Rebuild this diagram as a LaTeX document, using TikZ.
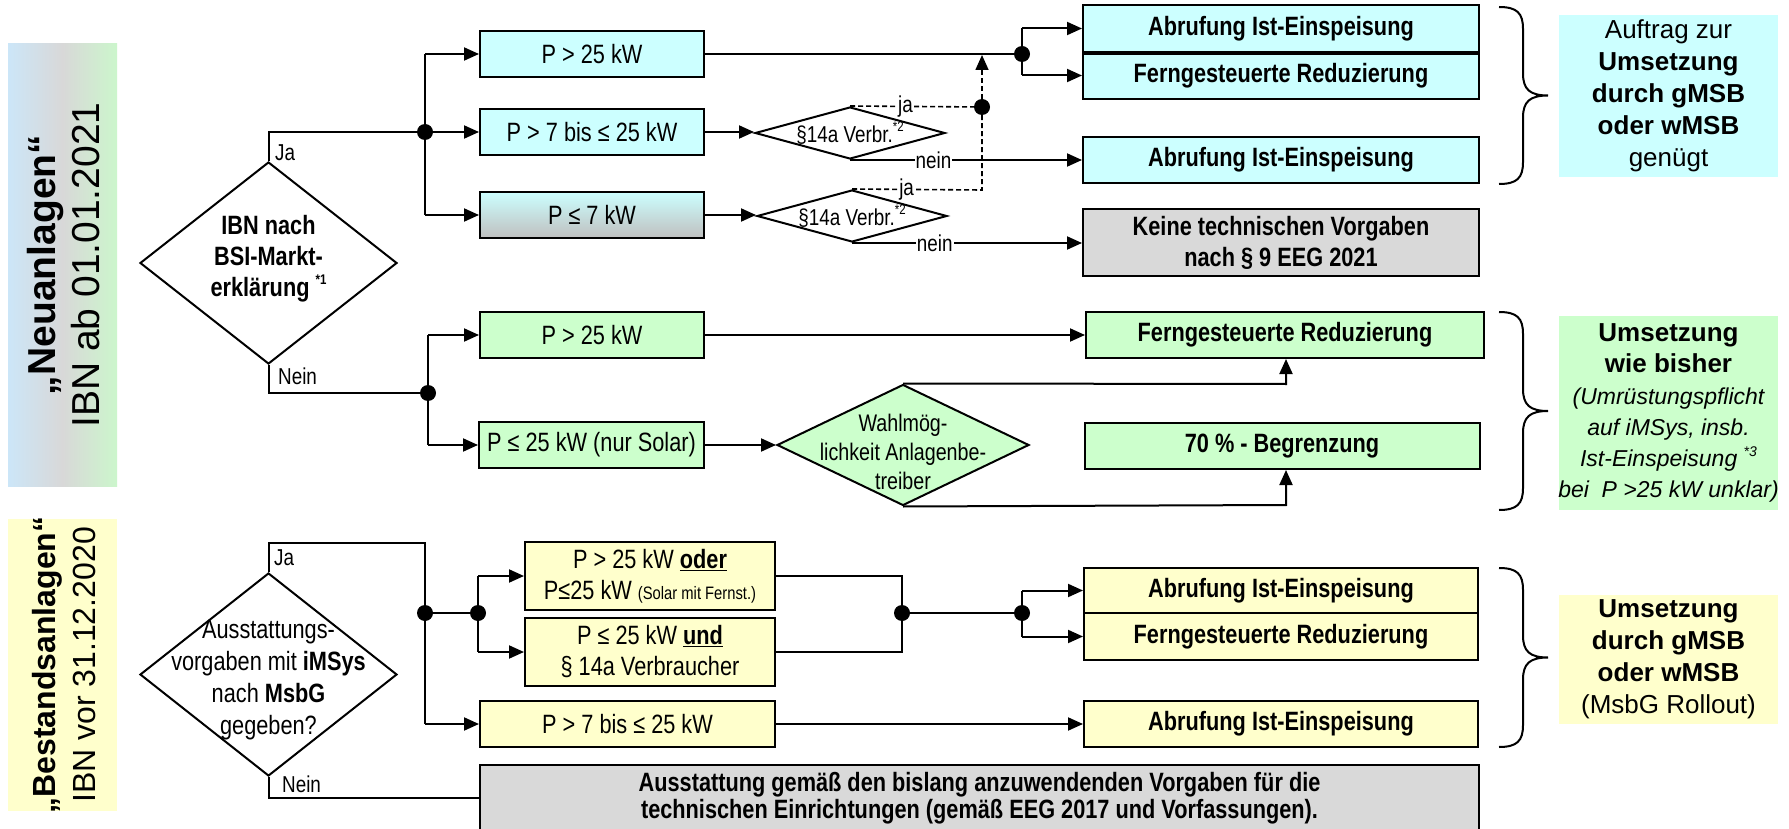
\documentclass[tikz,border=0pt]{standalone}
\usepackage{fontspec}
\setmainfont{Liberation Sans}
\newfontfamily\nar[FakeStretch=0.82]{Liberation Sans}
\usetikzlibrary{arrows.meta,shapes.geometric}
\definecolor{cyb}{HTML}{CCFFFF}
\definecolor{grb}{HTML}{CCFFCC}
\definecolor{yeb}{HTML}{FFFFCC}
\definecolor{gyb}{HTML}{D9D9D9}
\definecolor{gradg}{HTML}{BFBFBF}
\definecolor{sblue}{HTML}{CCE6F8}
\definecolor{sgray}{HTML}{D8D8D8}
\definecolor{sgreen}{HTML}{CCF6CC}
\newcommand\sups[1]{\raisebox{0.45em}{\fontsize{14}{14}\selectfont #1}}
\newcommand\mybrace[2]{%
 \pgfmathsetmacro\ymid{(#1+#2)/2}%
 \draw[line width=2pt] (1499,#1) .. controls (1517,#1) and (1523,#1+6) .. (1523,#1+22) -- (1523,\ymid-22) .. controls (1523,\ymid-6) and (1530,\ymid) .. (1548,\ymid) .. controls (1530,\ymid) and (1523,\ymid+6) .. (1523,\ymid+22) -- (1523,#2-22) .. controls (1523,#2-6) and (1517,#2) .. (1499,#2);}
\begin{document}
\begin{tikzpicture}[x=1pt,y=-1pt,
 bx/.style={draw, line width=2pt, rectangle, inner sep=0pt, align=center, font=\nar\fontsize{26.5}{31}\selectfont},
 bbx/.style={bx, font=\nar\bfseries\fontsize{26.5}{31}\selectfont},
 dia/.style={draw, line width=2pt, diamond, inner sep=0pt},
 dtxt/.style={align=center, inner sep=0pt},
 ln/.style={line width=2pt},
 arr/.style={line width=2pt, -{Triangle[length=15pt,width=13pt]}},
 dsh/.style={line width=1.6pt, dash pattern=on 5pt off 3pt},
 jdot/.style={circle, fill, inner sep=0pt, minimum size=16pt},
 lbl/.style={font=\nar\fontsize{23}{26}\selectfont, inner sep=1pt},
 rtxt/.style={inner sep=0pt, minimum width=219, align=center, font=\fontsize{26}{32}\selectfont}]
\useasboundingbox (0,0) rectangle (1789,829);
\fill[white] (0,0) rectangle (1789,829);

% ---------- side panels
\shade[left color=sblue, right color=sgreen, middle color=sgray] (8,44) rectangle (117,486);
\node[rotate=90, align=center, font=\fontsize{39}{44}\selectfont] (neut) at (64,265) {\textbf{„Neuanlagen“}\\IBN ab 01.01.2021};
\fill[yeb] (8,519) rectangle (117,811);
\node[rotate=90, align=center, font=\fontsize{32}{40}\selectfont] (bestt) at (64,665) {\textbf{„Bestandsanlagen“}\\IBN vor 31.12.2020};

% ---------- Neuanlagen decision
\node[dia, minimum width=257, minimum height=202] (d0) at (268.5,263) {};
\node[dtxt, font=\nar\bfseries\fontsize{26.5}{31}\selectfont] (d0t) at (268.5,259) {IBN nach\\BSI-Markt-\\erklärung \sups{*1}};
\node[lbl, anchor=west] (ja0) at (274,153) {Ja};
\node[lbl, anchor=west] (nein0) at (277,376) {Nein};

% blue branch
\node[bx, fill=cyb, minimum width=224, minimum height=46] (b1) at (592,54) {P > 25 kW};
\node[bx, fill=cyb, minimum width=224, minimum height=46] (b2) at (592,132) {P > 7 bis ≤ 25 kW};
\node[bx, top color=cyb, bottom color=gradg, minimum width=224, minimum height=46] (b3) at (592,215) {P ≤ 7 kW};
\node[dia, minimum width=190, minimum height=52] (d1) at (850,133) {};
\node[lbl] (d1t) at (850,133) {§14a Verbr.\sups{*2}};
\node[dia, minimum width=190, minimum height=52] (d2) at (852,216) {};
\node[lbl] (d2t) at (852,216) {§14a Verbr.\sups{*2}};

\node[bbx, fill=cyb, minimum width=396, minimum height=47] (ab1) at (1281,28.5) {Abrufung Ist-Einspeisung};
\node[bbx, fill=cyb, minimum width=396, minimum height=47] (fr1) at (1281,75.5) {Ferngesteuerte Reduzierung};
\draw[line width=4pt] (ab1.south west) -- (ab1.south east);
\node[bbx, fill=cyb, minimum width=396, minimum height=46] (ab2) at (1281,160) {Abrufung Ist-Einspeisung};
\node[bbx, fill=gyb, minimum width=396, minimum height=67] (keine) at (1281,242.5) {Keine technischen Vorgaben\\nach § 9 EEG 2021};

\coordinate (j1) at (425,132);
\coordinate (j1a) at (425,54);
\coordinate (j1b) at (425,215);
\draw[ln] (d0.north) |- (j1);
\draw[ln] (j1a) -- (j1b);
\draw[arr] (j1a) -- (b1.west);
\draw[arr] (j1) -- (b2.west);
\draw[arr] (j1b) -- (b3.west);
\node[jdot] at (j1) {};
\draw[arr] (b2.east) -- (b2.east -| d1.west);
\draw[arr] (b3.east) -- (b3.east -| d2.west);

\coordinate (j2) at (1022,54);
\coordinate (j2a) at (1022,28.5);
\coordinate (j2b) at (1022,75.5);
\draw[ln] (b1.east) -- (j2);
\draw[ln] (j2a) -- (j2b);
\draw[arr] (j2a) -- (ab1.west);
\draw[arr] (j2b) -- (fr1.west);
\node[jdot] at (j2) {};

\coordinate (dj) at (982,107);
\coordinate (dk) at (982,190);
\coordinate (dm) at (982,55);
\draw[arr] (d1.south) -- node[lbl, fill=white, pos=0.36] {nein} (d1.south -| ab2.west);
\draw[arr] (d2.south) -- node[lbl, fill=white, pos=0.36] {nein} (d2.south -| keine.west);
\draw[dsh] (d1.north) -- node[lbl, fill=white, pos=0.42] {ja} (dj);
\draw[dsh] (d2.north) -- node[lbl, fill=white, pos=0.42] {ja} (dk) -- (dj);
\draw[dsh, -{Triangle[length=15pt,width=13pt]}] (dj) -- (dm);
\node[jdot] at (dj) {};

\mybrace{7}{184}
\node[rtxt, fill=cyb, minimum height=162] (t1) at (1668.5,96) {Auftrag zur\\\textbf{Umsetzung}\\\textbf{durch gMSB}\\\textbf{oder wMSB}\\genügt};

% green branch
\coordinate (n1) at (428,393);
\coordinate (n1a) at (428,335);
\coordinate (n1b) at (428,445);
\draw[ln] (d0.south) |- (n1);
\draw[ln] (n1a) -- (n1b);
\node[bx, fill=grb, minimum width=224, minimum height=46] (g1) at (592,335) {P > 25 kW};
\node[bx, fill=grb, minimum width=225, minimum height=46] (g2) at (591.5,445) {P ≤ 25 kW (nur Solar)};
\draw[arr] (n1a) -- (g1.west);
\draw[arr] (n1b) -- (g2.west);
\node[jdot] at (n1) {};
\node[bbx, fill=grb, minimum width=398, minimum height=46] (gfr) at (1285,335) {Ferngesteuerte Reduzierung};
\node[bbx, fill=grb, minimum width=395, minimum height=46] (g70) at (1282,446) {70 \% - Begrenzung};
\node[dia, fill=grb, minimum width=252, minimum height=121] (dw) at (903,445) {};
\node[dtxt, font=\nar\fontsize{24}{29}\selectfont] (dwt) at (903,452) {Wahlmög-\\lichkeit Anlagenbe-\\treiber};
\draw[arr] (g1.east) -- (gfr.west);
\draw[arr] (g2.east) -- (dw.west);
\coordinate (w1) at (1286,384);
\coordinate (w2) at (1286,505);
\draw[arr] (dw.north) -- (w1) -- (w1 |- gfr.south);
\draw[arr] (dw.south) -- (w2) -- (w2 |- g70.south);

\mybrace{312}{510}
\node[fill=grb, inner sep=0pt, minimum width=219, minimum height=194] (t2) at (1668.5,413) {};
\node[align=center, inner sep=0pt, font=\fontsize{26}{31}\selectfont] (t2t) at (1668.5,413) {\textbf{Umsetzung}\\\textbf{wie bisher}\\[1pt]{\fontsize{23}{30}\selectfont\itshape (Umrüstungspflicht}\\{\fontsize{23}{30}\selectfont\itshape auf iMSys, insb.}\\{\fontsize{23}{30}\selectfont\itshape Ist-Einspeisung \sups{*3}}\\{\fontsize{23}{30}\selectfont\itshape bei\ \ P >25 kW unklar)}};

% ---------- Bestandsanlagen decision
\node[dia, minimum width=257, minimum height=203] (d3) at (268.5,674.5) {};
\node[dtxt, font=\nar\fontsize{26.5}{32}\selectfont] (d3t) at (268.5,680) {Ausstattungs-\\vorgaben mit \textbf{iMSys}\\nach \textbf{MsbG}\\gegeben?};
\node[lbl, anchor=west] (ja3) at (273,558) {Ja};
\node[lbl, anchor=west] (nein3) at (281,784) {Nein};

\coordinate (y1) at (425,543);
\coordinate (y2) at (425,613);
\coordinate (y3) at (425,724);
\coordinate (y4) at (478,613);
\coordinate (y4a) at (478,576);
\coordinate (y4b) at (478,652);
\node[bx, fill=yeb, minimum width=250, minimum height=68] (ya) at (650,576) {P > 25 kW \underline{\textbf{oder}}\\P≤25 kW {\fontsize{18}{20}\selectfont (Solar mit Fernst.)}};
\node[bx, fill=yeb, minimum width=250, minimum height=68] (yb) at (650,652) {P ≤ 25 kW \underline{\textbf{und}}\\§ 14a Verbraucher};
\node[bx, fill=yeb, minimum width=295, minimum height=46] (yc) at (627.5,724) {P > 7 bis ≤ 25 kW};
\draw[ln] (d3.north) |- (y1) -- (y3);
\draw[ln] (y2) -- (y4);
\draw[ln] (y4a) -- (y4b);
\draw[arr] (y4a) -- (ya.west);
\draw[arr] (y4b) -- (yb.west);
\draw[arr] (y3) -- (yc.west);
\node[jdot] at (y2) {};
\node[jdot] at (y4) {};

\node[bbx, fill=yeb, minimum width=394, minimum height=45] (yab) at (1281,590.5) {Abrufung Ist-Einspeisung};
\node[bbx, fill=yeb, minimum width=394, minimum height=47] (yfr) at (1281,636.5) {Ferngesteuerte Reduzierung};
\node[bbx, fill=yeb, minimum width=394, minimum height=46] (yab3) at (1281,724) {Abrufung Ist-Einspeisung};
\coordinate (y5) at (902,613);
\coordinate (y6) at (1022,613);
\coordinate (y6a) at (1022,590.5);
\coordinate (y6b) at (1022,636.5);
\draw[ln] (ya.east) -| (y5);
\draw[ln] (yb.east) -| (y5);
\draw[ln] (y5) -- (y6);
\draw[ln] (y6a) -- (y6b);
\draw[arr] (y6a) -- (yab.west);
\draw[arr] (y6b) -- (yfr.west);
\node[jdot] at (y5) {};
\node[jdot] at (y6) {};
\draw[arr] (yc.east) -- (yab3.west);

\node[bbx, fill=gyb, minimum width=999, minimum height=66, font=\nar\bfseries\fontsize{26.5}{27}\selectfont] (gb) at (979.5,798) {Ausstattung gemäß den bislang anzuwendenden Vorgaben für die\\technischen Einrichtungen (gemäß EEG 2017 und Vorfassungen).};
\draw[ln] (d3.south) |- (gb.west);

\mybrace{568}{747}
\node[rtxt, fill=yeb, minimum height=129] (t3) at (1668.5,659.5) {\textbf{Umsetzung}\\\textbf{durch gMSB}\\\textbf{oder wMSB}\\(MsbG Rollout)};
\end{tikzpicture}
\end{document}
